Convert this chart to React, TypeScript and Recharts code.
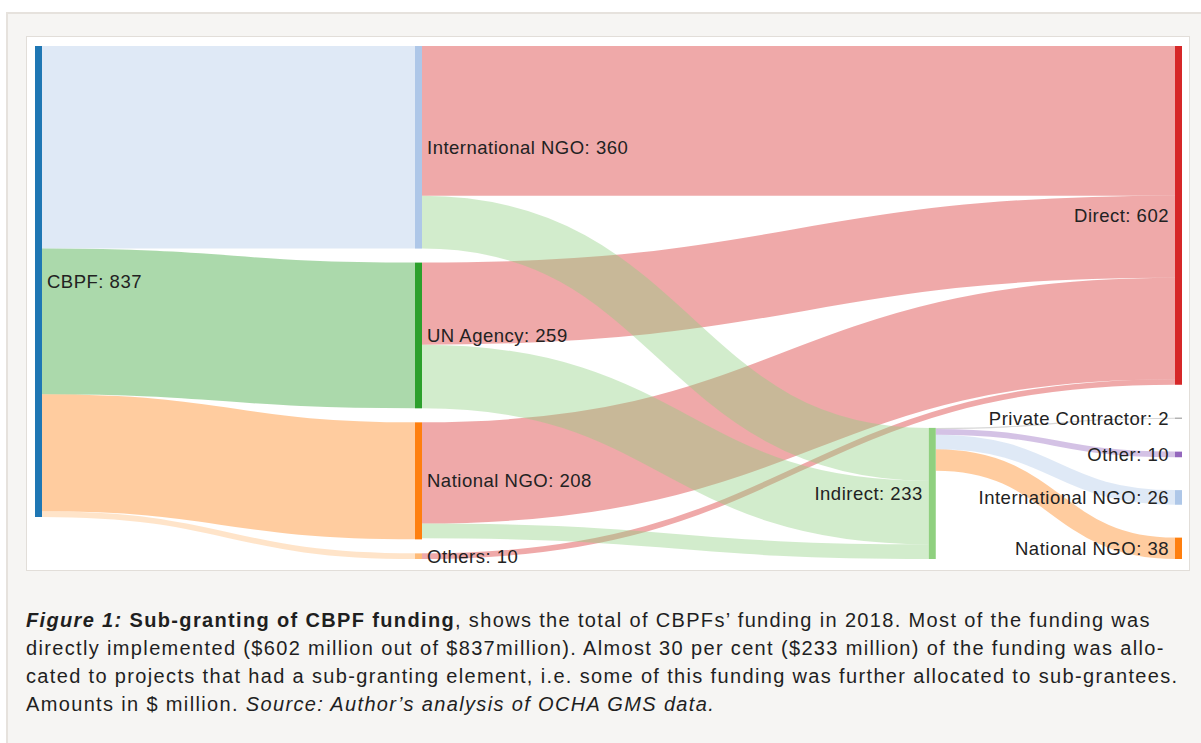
import React from "react";
import { Sankey } from "recharts";

// nodes, in column order (top to bottom)
const NODE_IDS = [
  "cbpf",
  "intlNgo",
  "unAgency",
  "natlNgo",
  "others",
  "direct",
  "indirect",
  "privateContractor",
  "other",
  "subIntlNgo",
  "subNatlNgo",
];
const NODE_LABELS = [
  "CBPF",
  "International NGO",
  "UN Agency",
  "National NGO",
  "Others",
  "Direct",
  "Indirect",
  "Private Contractor",
  "Other",
  "International NGO",
  "National NGO",
];
const NODE_TOTALS = [837, 360, 259, 208, 10, 602, 233, 2, 10, 26, 38];

// flows ($ million); direct flows listed before indirect ones
const LINK_FROM = [
  "cbpf", "cbpf", "cbpf", "cbpf",
  "intlNgo", "unAgency", "natlNgo", "others",
  "intlNgo", "unAgency", "natlNgo",
  "indirect", "indirect", "indirect", "indirect",
];
const LINK_TO = [
  "intlNgo", "unAgency", "natlNgo", "others",
  "direct", "direct", "direct", "direct",
  "indirect", "indirect", "indirect",
  "privateContractor", "other", "subIntlNgo", "subNatlNgo",
];
const LINK_VALUES = [360, 259, 208, 10, 266, 146, 180, 10, 94, 113, 26, 2, 10, 26, 38];

const NODE_COLORS: Record<string, string> = {
  cbpf: "#1f77b4",
  intlNgo: "#aec7e8",
  unAgency: "#2ca02c",
  natlNgo: "#ff7f0e",
  others: "#ffbb78",
  direct: "#d62728",
  indirect: "#8fd07f",
  privateContractor: "#9a9a9a",
  other: "#9467bd",
  subIntlNgo: "#aec7e8",
  subNatlNgo: "#ff7f0e",
};

const CHART_W = 1201;
const CHART_H = 600;
const MARGIN = { top: 46, right: 19, bottom: 41, left: 35 };
const INNER_W = CHART_W - MARGIN.left - MARGIN.right;
const INNER_H = CHART_H - MARGIN.top - MARGIN.bottom;
const NODE_W = 7;
const NODE_PAD = 14;
// the "Indirect" column sits further right than an even split
const MID_COLUMN_POSITION = 0.784;

const LABEL_FONT = '"Liberation Sans", Arial, Helvetica, sans-serif';

const sankeyData = {
  nodes: NODE_IDS.map((id, i) => ({ id, name: NODE_LABELS[i], total: NODE_TOTALS[i] })),
  links: LINK_VALUES.map((value, i) => ({
    source: NODE_IDS.indexOf(LINK_FROM[i]),
    target: NODE_IDS.indexOf(LINK_TO[i]),
    value,
  })),
};

const SUB_IDS = LINK_TO.filter((_, i) => LINK_FROM[i] === "indirect");
const SUB_VALUES = LINK_VALUES.filter((_, i) => LINK_FROM[i] === "indirect");
const DIRECT_TOTAL = LINK_VALUES.filter((_, i) => LINK_TO[i] === "direct").reduce((a, b) => a + b, 0);

const sum = (xs: number[]) => xs.reduce((a, b) => a + b, 0);

// layout tweaks on top of recharts' positions: indirect column sits on the
// bottom edge, the sub-grantee nodes are spread below "Direct"
function shiftOf(node: any) {
  if (node.depth === 2) {
    const x = (INNER_W - NODE_W) * MID_COLUMN_POSITION;
    return { dx: x - node.x, dy: INNER_H - node.y - node.dy };
  }
  const k = SUB_IDS.indexOf(node.id);
  if (k >= 0 && node.value > 0) {
    const ratio = node.dy / node.value;
    const gap = (INNER_H - ratio * (DIRECT_TOTAL + sum(SUB_VALUES))) / SUB_IDS.length;
    const y = ratio * (DIRECT_TOTAL + sum(SUB_VALUES.slice(0, k))) + gap * (k + 1);
    return { dx: 0, dy: y - node.y };
  }
  return { dx: 0, dy: 0 };
}

// stack a node's links in data order
function stackedBefore(index: number, ends: string[]) {
  return sum(LINK_VALUES.filter((_, j) => j < index && ends[j] === ends[index]));
}

function FlowLink(props: any) {
  const { sourceX, targetX, linkWidth, payload, index } = props;
  const { source, target } = payload;
  const s = shiftOf(source);
  const t = shiftOf(target);
  const ratio = payload.value > 0 ? linkWidth / payload.value : 0;
  const x0 = sourceX + s.dx;
  const x1 = targetX + t.dx;
  const y0 = source.y + MARGIN.top + s.dy + ratio * stackedBefore(index, LINK_FROM) + linkWidth / 2;
  const y1 = target.y + MARGIN.top + t.dy + ratio * stackedBefore(index, LINK_TO) + linkWidth / 2;
  const mid = (x0 + x1) / 2;
  return (
    <path
      d={`M${x0},${y0}C${mid},${y0} ${mid},${y1} ${x1},${y1}`}
      fill="none"
      stroke={NODE_COLORS[target.id]}
      strokeWidth={linkWidth}
      strokeOpacity={0.4}
    />
  );
}

function FlowNode(props: any) {
  const { x, y, width, height, payload } = props;
  const s = shiftOf(payload);
  const nx = x + s.dx;
  const ny = y + s.dy;
  const onLeft = payload.depth >= 2;
  return (
    <g>
      <rect x={nx} y={ny} width={width} height={Math.max(height, 1)} fill={NODE_COLORS[payload.id]} />
      <text
        x={onLeft ? nx - 6 : nx + width + 5}
        y={ny + height / 2}
        textAnchor={onLeft ? "end" : "start"}
        dominantBaseline="central"
        fontFamily={LABEL_FONT}
        fontSize={18.5}
        letterSpacing={0.5}
        fill="#222"
      >
        {`${payload.name}: ${payload.total}`}
      </text>
    </g>
  );
}

const CAPTION_FONT = '"Liberation Sans", Arial, Helvetica, sans-serif';

export default function App() {
  return (
    <div
      style={{
        position: "absolute",
        left: 0,
        top: 0,
        width: 1201,
        height: 743,
        background: "#ffffff",
        overflow: "hidden",
      }}
    >
      <div
        style={{
          position: "absolute",
          left: 6,
          top: 12,
          width: 1200,
          height: 740,
          background: "#f6f5f3",
          borderTop: "2px solid #e6e2dd",
          borderLeft: "2px solid #e6e2dd",
        }}
      />
      <div
        style={{
          position: "absolute",
          left: 26,
          top: 36,
          width: 1162,
          height: 533,
          background: "#ffffff",
          border: "1px solid #e2ded9",
        }}
      />
      <div style={{ position: "absolute", left: 0, top: 0 }}>
        <Sankey
          width={CHART_W}
          height={CHART_H}
          data={sankeyData}
          margin={MARGIN}
          nodeWidth={NODE_W}
          nodePadding={NODE_PAD}
          iterations={0}
          align="justify"
          verticalAlign="top"
          sort={false}
          link={(p: any) => <FlowLink {...p} />}
          node={(p: any) => <FlowNode {...p} />}
        />
      </div>
      <div
        style={{
          position: "absolute",
          left: 26,
          top: 606,
          fontFamily: CAPTION_FONT,
          fontSize: 20,
          lineHeight: "28px",
          letterSpacing: 1.35,
          color: "#1f1f1f",
          whiteSpace: "nowrap",
        }}
      >
        <div>
          <b>
            <i>Figure 1:</i> Sub-granting of CBPF funding
          </b>
          , shows the total of CBPFs’ funding in 2018. Most of the funding was
        </div>
        <div>
          directly implemented ($602 million out of $837million). Almost 30 per cent ($233 million) of the funding was allo-
        </div>
        <div>
          cated to projects that had a sub-granting element, i.e. some of this funding was further allocated to sub-grantees.
        </div>
        <div>
          Amounts in $ million. <i>Source: Author’s analysis of OCHA GMS data.</i>
        </div>
      </div>
    </div>
  );
}
